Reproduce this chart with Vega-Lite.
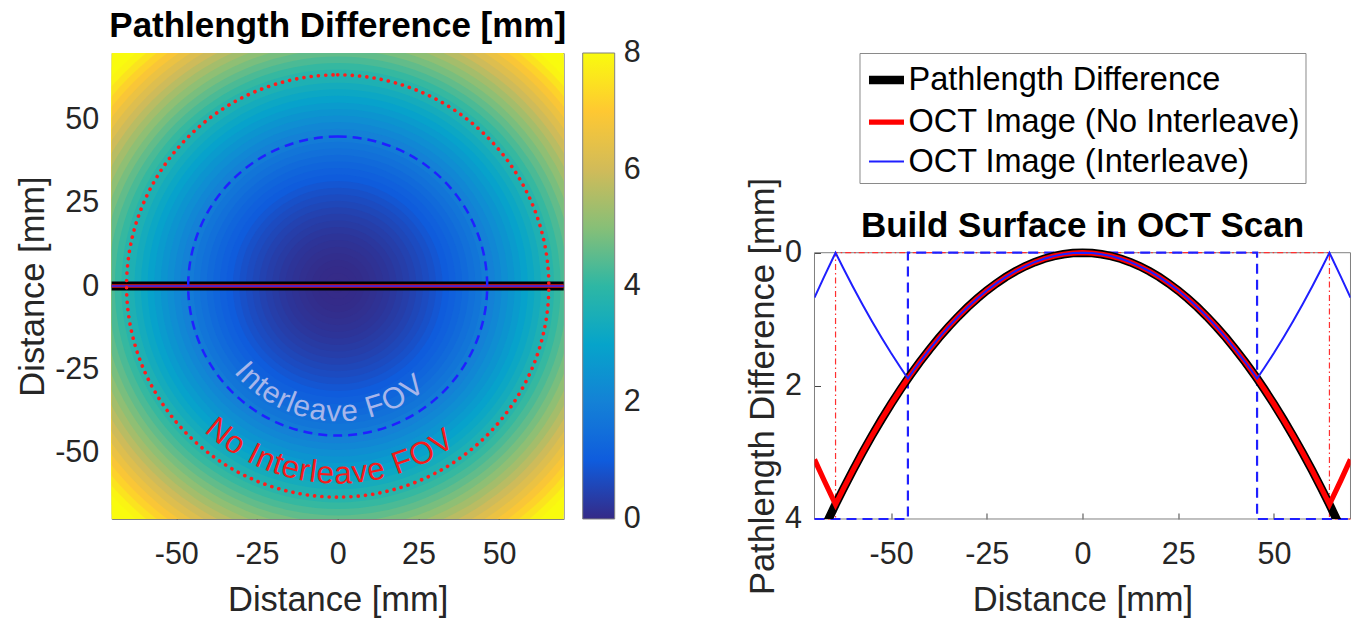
{
  "$schema": "https://vega.github.io/schema/vega-lite/v6.json",
  "background": "white",
  "padding": {"left": 14.7, "top": 8, "right": 4, "bottom": 4},
  "autosize": {"type": "pad"},
  "bounds": "flush",
  "spacing": 250.8,
  "resolve": {"scale": {"color": "independent", "strokeWidth": "independent"}, "legend": {"color": "independent"}},
  "config": {
    "font": "Liberation Sans",
    "view": {"stroke": "#808080"},
    "title": {"font": "Liberation Sans", "fontSize": 35, "fontWeight": "bold", "color": "#000000"},
    "axis": {"grid": false, "ticks": true, "tickSize": -6, "tickColor": "#404040", "tickWidth": 1, "zindex": 1, "domain": false, "labelFont": "Liberation Sans", "titleFont": "Liberation Sans", "labelFontSize": 30.5, "labelColor": "#262626", "titleFontSize": 34.5, "titleFontWeight": "normal", "titleColor": "#262626", "labelOverlap": false},
    "axisX": {"labelPadding": 27, "titlePadding": 13},
    "axisY": {"labelPadding": 19, "titlePadding": 4},
    "legend": {"labelFont": "Liberation Sans"}
  },
  "hconcat": [
    {
      "width": 452,
      "height": 466,
      "title": {"text": "Pathlength Difference [mm]", "baseline": "alphabetic", "offset": -19},
      "layer": [
        {
          "data": {"values": [
            {"r": 100, "v": 8.91}, {"r": 98, "v": 8.55}, {"r": 96, "v": 8.2}, {"r": 94, "v": 7.86}, {"r": 92, "v": 7.53},
            {"r": 90, "v": 7.2}, {"r": 88, "v": 6.88}, {"r": 86, "v": 6.57}, {"r": 84, "v": 6.26}, {"r": 82, "v": 5.96},
            {"r": 80, "v": 5.67}, {"r": 78, "v": 5.39}, {"r": 76, "v": 5.11}, {"r": 74, "v": 4.84}, {"r": 72, "v": 4.58},
            {"r": 70, "v": 4.33}, {"r": 68, "v": 4.08}, {"r": 66, "v": 3.84}, {"r": 64, "v": 3.61}, {"r": 62, "v": 3.38},
            {"r": 60, "v": 3.16}, {"r": 58, "v": 2.95}, {"r": 56, "v": 2.75}, {"r": 54, "v": 2.55}, {"r": 52, "v": 2.36},
            {"r": 50, "v": 2.18}, {"r": 48, "v": 2.01}, {"r": 46, "v": 1.84}, {"r": 44, "v": 1.68}, {"r": 42, "v": 1.53},
            {"r": 40, "v": 1.38}, {"r": 38, "v": 1.24}, {"r": 36, "v": 1.11}, {"r": 34, "v": 0.99}, {"r": 32, "v": 0.87},
            {"r": 30, "v": 0.76}, {"r": 28, "v": 0.66}, {"r": 26, "v": 0.57}, {"r": 24, "v": 0.48}, {"r": 22, "v": 0.4},
            {"r": 20, "v": 0.33}, {"r": 18, "v": 0.26}, {"r": 16, "v": 0.2}, {"r": 14, "v": 0.15}, {"r": 12, "v": 0.11},
            {"r": 10, "v": 0.07}, {"r": 8, "v": 0.04}, {"r": 6, "v": 0.02}, {"r": 4, "v": 0.01}, {"r": 2, "v": 0.0}
          ]},
          "mark": {"type": "arc", "theta": 0, "theta2": 6.2832, "clip": true},
          "encoding": {
            "radius": {"field": "r", "type": "quantitative", "stack": null, "scale": {"type": "linear", "domain": [0, 70], "range": [0, 229.5], "zero": true}},
            "color": {
              "field": "v", "type": "quantitative",
              "scale": {"type": "linear", "domain": [0, 1, 2, 3, 4, 5, 6, 7, 8], "range": ["#352A87", "#0F5CDD", "#1481D6", "#06A4CA", "#2EB7A4", "#87BF77", "#D1BB59", "#FEC832", "#F9FB0E"], "clamp": true, "interpolate": "rgb"},
              "legend": {"title": null, "orient": "right", "direction": "vertical", "gradientLength": 466, "gradientThickness": 32, "offset": 19, "values": [0, 2, 4, 6, 8], "labelFontSize": 30.5, "labelColor": "#262626", "labelOffset": 9, "labelOverlap": false, "gradientStrokeColor": "#808080", "gradientStrokeWidth": 1, "padding": 0, "encode": {"labels": {"update": {"baseline": {"value": "middle"}}}}}
            }
          }
        },
        {
          "data": {"values": [{}]},
          "encoding": {
            "x": {"datum": -70, "type": "quantitative", "scale": {"domain": [-70, 70], "nice": false, "zero": false}, "axis": {"title": "Distance [mm]", "values": [-50, -25, 0, 25, 50], "labelExpr": "'' + datum.value"}},
            "x2": {"datum": 70},
            "y": {"datum": 0, "type": "quantitative", "scale": {"domain": [-70, 70], "nice": false, "zero": false}, "axis": {"title": "Distance [mm]", "values": [-50, -25, 0, 25, 50], "labelExpr": "'' + datum.value"}}
          },
          "layer": [
            {"mark": {"type": "rule", "color": "#000000", "strokeWidth": 9}},
            {"mark": {"type": "rule", "color": "#e01818", "strokeWidth": 3.5}},
            {"mark": {"type": "rule", "color": "#2424ff", "strokeWidth": 1.5}}
          ]
        },
        {
          "data": {"values": [{}]},
          "mark": {"type": "arc", "theta": 0, "theta2": 6.2832, "filled": false, "color": "#2020ff", "strokeWidth": 2.5, "strokeDash": [9, 6]},
          "encoding": {
            "radius": {"datum": 45.6, "type": "quantitative", "scale": {"type": "linear", "domain": [0, 70], "range": [0, 229.5], "zero": true}}
          }
        },
        {
          "data": {"values": [{}]},
          "mark": {"type": "arc", "theta": 0, "theta2": 6.2832, "filled": false, "color": "#ff1c1c", "strokeWidth": 3.6, "strokeDash": [0.1, 7.2], "strokeCap": "round"},
          "encoding": {
            "radius": {"datum": 64.4, "type": "quantitative", "scale": {"type": "linear", "domain": [0, 70], "range": [0, 229.5], "zero": true}}
          }
        },
        {
          "data": {"values": [
            {"c": "I", "a": 228.6}, {"c": "n", "a": 222.9}, {"c": "t", "a": 217.3}, {"c": "e", "a": 211.6}, {"c": "r", "a": 205.5},
            {"c": "l", "a": 201.8}, {"c": "e", "a": 196.5}, {"c": "a", "a": 188.9}, {"c": "v", "a": 181.75}, {"c": "e", "a": 174.6},
            {"c": "F", "a": 162.9}, {"c": "O", "a": 153.4}, {"c": "V", "a": 143.6}
          ]},
          "mark": {"type": "text", "font": "Liberation Sans", "fontSize": 30, "color": "#a7b6ea", "align": "center", "baseline": "middle"},
          "encoding": {
            "theta": {"field": "a", "type": "quantitative", "stack": null, "scale": {"type": "linear", "domain": [0, 360], "range": [0, 6.283185]}},
            "radius": {"datum": 38.5, "type": "quantitative", "scale": {"type": "linear", "domain": [0, 70], "range": [0, 229.5], "zero": true}},
            "angle": {"field": "a", "type": "quantitative", "scale": {"domain": [0, 360], "range": [-180, 180]}},
            "text": {"field": "c"}
          }
        },
        {
          "data": {"values": [
            {"c": "N", "a": 219.4}, {"c": "o", "a": 213.2}, {"c": "I", "a": 206.55}, {"c": "n", "a": 202.5}, {"c": "t", "a": 198.5},
            {"c": "e", "a": 194.5}, {"c": "r", "a": 190.2}, {"c": "l", "a": 187.5}, {"c": "e", "a": 183.8}, {"c": "a", "a": 178.4},
            {"c": "v", "a": 173.3}, {"c": "e", "a": 168.25}, {"c": "F", "a": 159.95}, {"c": "O", "a": 153.3}, {"c": "V", "a": 146.3}
          ]},
          "mark": {"type": "text", "font": "Liberation Sans", "fontSize": 31.5, "color": "#f51b1b", "align": "center", "baseline": "middle"},
          "encoding": {
            "theta": {"field": "a", "type": "quantitative", "stack": null, "scale": {"type": "linear", "domain": [0, 360], "range": [0, 6.283185]}},
            "radius": {"datum": 57.5, "type": "quantitative", "scale": {"type": "linear", "domain": [0, 70], "range": [0, 229.5], "zero": true}},
            "angle": {"field": "a", "type": "quantitative", "scale": {"domain": [0, 360], "range": [-180, 180]}},
            "text": {"field": "c"}
          }
        }
      ]
    },
    {
      "width": 536,
      "height": 466,
      "view": {"stroke": null},
      "layer": [
        {
          "data": {"values": [{}]},
          "mark": {"type": "rect", "filled": false, "color": "#808080", "strokeWidth": 1},
          "encoding": {
            "x": {"datum": -70, "type": "quantitative", "scale": {"domain": [-70, 70], "nice": false, "zero": false}, "axis": {"title": "Distance [mm]", "values": [-50, -25, 0, 25, 50], "labelExpr": "'' + datum.value"}},
            "x2": {"datum": 70},
            "y": {"datum": 0, "type": "quantitative", "scale": {"domain": [-3, 4], "reverse": true, "nice": false, "zero": false}, "axis": {"title": "Pathlength Difference [mm]", "values": [0, 2, 4], "titleY": 333}},
            "y2": {"datum": 4}
          }
        },
        {
          "data": {"values": [
            {"i": 0, "x": -70, "y": 4}, {"i": 1, "x": -64.5, "y": 4}, {"i": 2, "x": -64.5, "y": 0},
            {"i": 3, "x": 64.5, "y": 0}, {"i": 4, "x": 64.5, "y": 4}, {"i": 5, "x": 70, "y": 4}
          ]},
          "mark": {"type": "line", "color": "#ff3030", "strokeWidth": 1.2, "strokeDash": [6, 3, 1.5, 3]},
          "encoding": {
            "x": {"field": "x", "type": "quantitative", "scale": {"domain": [-70, 70], "nice": false, "zero": false}, "axis": {"title": "Distance [mm]", "values": [-50, -25, 0, 25, 50], "labelExpr": "'' + datum.value"}},
            "y": {"field": "y", "type": "quantitative", "scale": {"domain": [-3, 4], "reverse": true, "nice": false, "zero": false}, "axis": {"title": "Pathlength Difference [mm]", "values": [0, 2, 4], "titleY": 333}},
            "order": {"field": "i", "type": "quantitative"}
          }
        },
        {
          "data": {"values": [
            {"i": 0, "x": -70, "y": 4}, {"i": 1, "x": -45.6, "y": 4}, {"i": 2, "x": -45.6, "y": 0},
            {"i": 3, "x": 45.6, "y": 0}, {"i": 4, "x": 45.6, "y": 4}, {"i": 5, "x": 70, "y": 4}
          ]},
          "mark": {"type": "line", "color": "#1f1fff", "strokeWidth": 2.2, "strokeDash": [10, 6]},
          "encoding": {
            "x": {"field": "x", "type": "quantitative", "scale": {"domain": [-70, 70], "nice": false, "zero": false}, "axis": {"title": "Distance [mm]", "values": [-50, -25, 0, 25, 50], "labelExpr": "'' + datum.value"}},
            "y": {"field": "y", "type": "quantitative", "scale": {"domain": [-3, 4], "reverse": true, "nice": false, "zero": false}, "axis": {"title": "Pathlength Difference [mm]", "values": [0, 2, 4], "titleY": 333}},
            "order": {"field": "i", "type": "quantitative"}
          }
        },
        {
          "data": {"values": [
            {"x": -70, "P": 4.4545, "N": 3.1055, "I": 0.6745},
            {"x": -67.5, "P": 4.142, "N": 3.418, "I": 0.362},
            {"x": -65, "P": 3.8409, "N": 3.7191, "I": 0.0609},
            {"x": -64.5, "P": 3.78, "N": 3.78, "I": 0},
            {"x": -62.5, "P": 3.5511, "N": 3.5511, "I": 0.2289},
            {"x": -60, "P": 3.2727, "N": 3.2727, "I": 0.5073},
            {"x": -57.5, "P": 3.0057, "N": 3.0057, "I": 0.7743},
            {"x": -55, "P": 2.75, "N": 2.75, "I": 1.03},
            {"x": -52.5, "P": 2.5057, "N": 2.5057, "I": 1.2743},
            {"x": -50, "P": 2.2727, "N": 2.2727, "I": 1.5073},
            {"x": -47.5, "P": 2.0511, "N": 2.0511, "I": 1.7289},
            {"x": -45.6, "P": 1.89, "N": 1.89, "I": 1.89},
            {"x": -45, "P": 1.8409, "N": 1.8409, "I": 1.8409},
            {"x": -42.5, "P": 1.642, "N": 1.642, "I": 1.642},
            {"x": -40, "P": 1.4545, "N": 1.4545, "I": 1.4545},
            {"x": -37.5, "P": 1.2784, "N": 1.2784, "I": 1.2784},
            {"x": -35, "P": 1.1136, "N": 1.1136, "I": 1.1136},
            {"x": -32.5, "P": 0.9602, "N": 0.9602, "I": 0.9602},
            {"x": -30, "P": 0.8182, "N": 0.8182, "I": 0.8182},
            {"x": -27.5, "P": 0.6875, "N": 0.6875, "I": 0.6875},
            {"x": -25, "P": 0.5682, "N": 0.5682, "I": 0.5682},
            {"x": -22.5, "P": 0.4602, "N": 0.4602, "I": 0.4602},
            {"x": -20, "P": 0.3636, "N": 0.3636, "I": 0.3636},
            {"x": -17.5, "P": 0.2784, "N": 0.2784, "I": 0.2784},
            {"x": -15, "P": 0.2045, "N": 0.2045, "I": 0.2045},
            {"x": -12.5, "P": 0.142, "N": 0.142, "I": 0.142},
            {"x": -10, "P": 0.0909, "N": 0.0909, "I": 0.0909},
            {"x": -7.5, "P": 0.0511, "N": 0.0511, "I": 0.0511},
            {"x": -5, "P": 0.0227, "N": 0.0227, "I": 0.0227},
            {"x": -2.5, "P": 0.0057, "N": 0.0057, "I": 0.0057},
            {"x": 0, "P": 0, "N": 0, "I": 0},
            {"x": 2.5, "P": 0.0057, "N": 0.0057, "I": 0.0057},
            {"x": 5, "P": 0.0227, "N": 0.0227, "I": 0.0227},
            {"x": 7.5, "P": 0.0511, "N": 0.0511, "I": 0.0511},
            {"x": 10, "P": 0.0909, "N": 0.0909, "I": 0.0909},
            {"x": 12.5, "P": 0.142, "N": 0.142, "I": 0.142},
            {"x": 15, "P": 0.2045, "N": 0.2045, "I": 0.2045},
            {"x": 17.5, "P": 0.2784, "N": 0.2784, "I": 0.2784},
            {"x": 20, "P": 0.3636, "N": 0.3636, "I": 0.3636},
            {"x": 22.5, "P": 0.4602, "N": 0.4602, "I": 0.4602},
            {"x": 25, "P": 0.5682, "N": 0.5682, "I": 0.5682},
            {"x": 27.5, "P": 0.6875, "N": 0.6875, "I": 0.6875},
            {"x": 30, "P": 0.8182, "N": 0.8182, "I": 0.8182},
            {"x": 32.5, "P": 0.9602, "N": 0.9602, "I": 0.9602},
            {"x": 35, "P": 1.1136, "N": 1.1136, "I": 1.1136},
            {"x": 37.5, "P": 1.2784, "N": 1.2784, "I": 1.2784},
            {"x": 40, "P": 1.4545, "N": 1.4545, "I": 1.4545},
            {"x": 42.5, "P": 1.642, "N": 1.642, "I": 1.642},
            {"x": 45, "P": 1.8409, "N": 1.8409, "I": 1.8409},
            {"x": 45.6, "P": 1.89, "N": 1.89, "I": 1.89},
            {"x": 47.5, "P": 2.0511, "N": 2.0511, "I": 1.7289},
            {"x": 50, "P": 2.2727, "N": 2.2727, "I": 1.5073},
            {"x": 52.5, "P": 2.5057, "N": 2.5057, "I": 1.2743},
            {"x": 55, "P": 2.75, "N": 2.75, "I": 1.03},
            {"x": 57.5, "P": 3.0057, "N": 3.0057, "I": 0.7743},
            {"x": 60, "P": 3.2727, "N": 3.2727, "I": 0.5073},
            {"x": 62.5, "P": 3.5511, "N": 3.5511, "I": 0.2289},
            {"x": 64.5, "P": 3.78, "N": 3.78, "I": 0},
            {"x": 65, "P": 3.8409, "N": 3.7191, "I": 0.0609},
            {"x": 67.5, "P": 4.142, "N": 3.418, "I": 0.362},
            {"x": 70, "P": 4.4545, "N": 3.1055, "I": 0.6745}
          ]},
          "transform": [{"fold": ["P", "N", "I"], "as": ["s", "val"]}],
          "mark": {"type": "line", "clip": true},
          "encoding": {
            "x": {"field": "x", "type": "quantitative", "scale": {"domain": [-70, 70], "nice": false, "zero": false}, "axis": {"title": "Distance [mm]", "values": [-50, -25, 0, 25, 50], "labelExpr": "'' + datum.value"}},
            "y": {"field": "val", "type": "quantitative", "scale": {"domain": [-3, 4], "reverse": true, "nice": false, "zero": false}, "axis": {"title": "Pathlength Difference [mm]", "values": [0, 2, 4], "titleY": 333}},
            "color": {
              "field": "s", "type": "nominal",
              "scale": {"domain": ["P", "N", "I"], "range": ["#000000", "#ff0000", "#1f1fff"]},
              "legend": {"orient": "none", "legendX": 45, "legendY": 0, "title": null, "symbolType": "stroke", "symbolSize": 1225, "labelFontSize": 32.5, "labelColor": "#000000", "strokeColor": "#8a8a8a", "fillColor": "#ffffff", "padding": 5, "rowPadding": 4.5, "labelOffset": 0, "labelLimit": 0, "labelExpr": "datum.label == 'P' ? 'Pathlength Difference' : datum.label == 'N' ? 'OCT Image (No Interleave)' : 'OCT Image (Interleave)'"}
            },
            "strokeWidth": {
              "field": "s", "type": "nominal",
              "scale": {"type": "point", "domain": ["P", "N", "I"], "range": [8.5, 2], "padding": 0}
            }
          }
        },
        {
          "data": {"values": [{}]},
          "mark": {"type": "text", "text": "Build Surface in OCT Scan", "font": "Liberation Sans", "fontSize": 35, "fontWeight": "bold", "color": "#000000", "align": "center", "baseline": "alphabetic"},
          "encoding": {
            "x": {"datum": 0, "type": "quantitative", "scale": {"domain": [-70, 70], "nice": false, "zero": false}, "axis": {"title": "Distance [mm]", "values": [-50, -25, 0, 25, 50], "labelExpr": "'' + datum.value"}},
            "y": {"datum": -0.236, "type": "quantitative", "scale": {"domain": [-3, 4], "reverse": true, "nice": false, "zero": false}, "axis": {"title": "Pathlength Difference [mm]", "values": [0, 2, 4], "titleY": 333}}
          }
        }
      ]
    }
  ]
}
